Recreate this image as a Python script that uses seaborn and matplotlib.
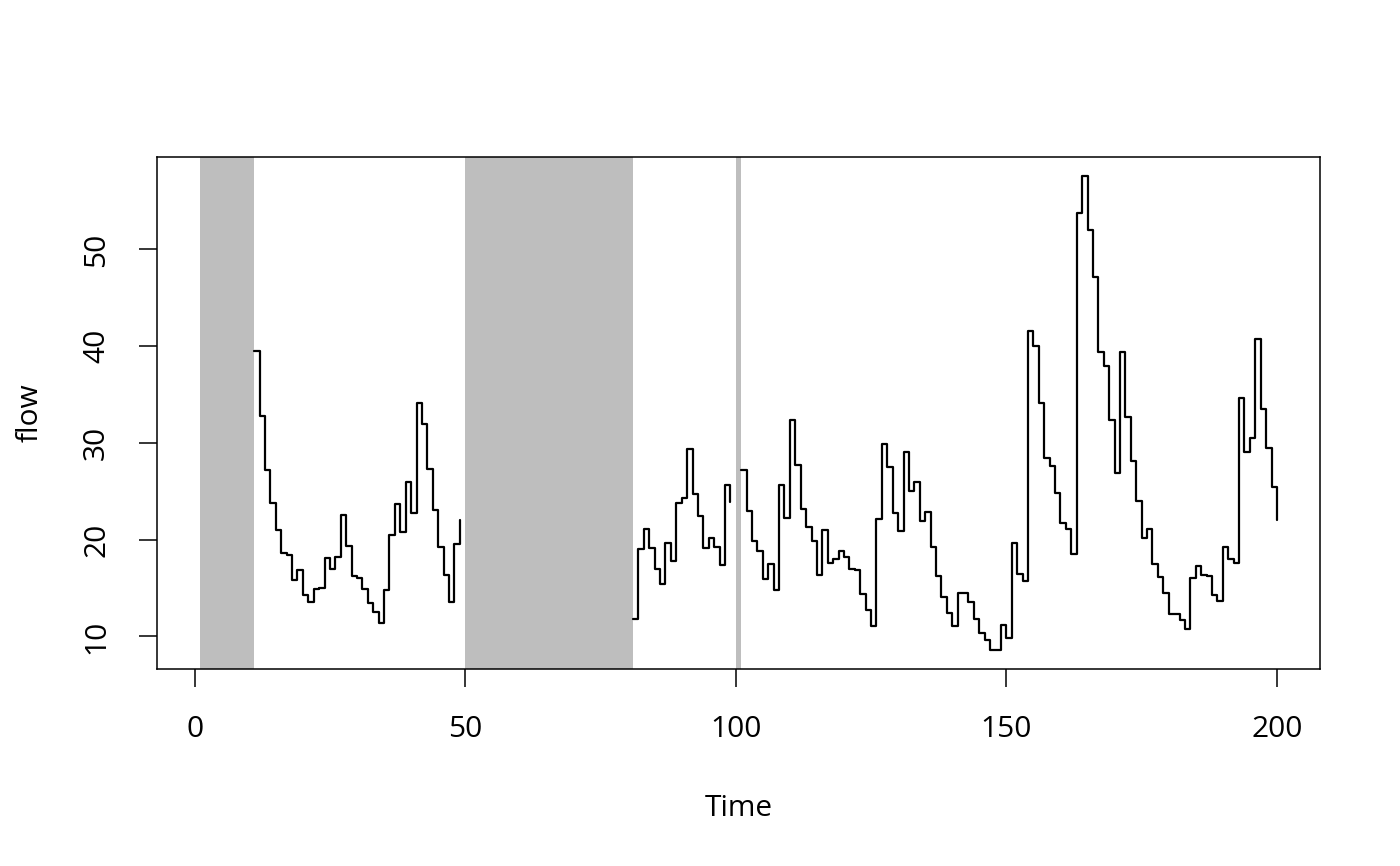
import numpy as np
import pandas as pd
import matplotlib
matplotlib.use("Agg")
import matplotlib.pyplot as plt
import seaborn as sns

NA = np.nan
time = list(range(1, 201))
flow = ([NA] * 10 + [
    39.5, 32.8, 27.2, 23.8, 21.0, 18.6, 18.4, 15.8, 16.9, 14.3,
    13.6, 14.9, 15.0, 18.1, 17.0, 18.2, 22.6, 19.4, 16.3, 16.0,
    14.9, 13.5, 12.5, 11.4, 14.8, 20.5, 23.7, 20.8, 26.0, 22.8,
    34.1, 32.0, 27.3, 23.1, 19.3, 16.4, 13.6, 19.6, 22.0]
    + [NA] * 31 + [
    11.8, 19.0, 21.1, 19.1, 17.0, 15.4, 19.7, 17.8, 23.8, 24.3,
    29.4, 24.7, 22.5, 19.1, 20.2, 19.3, 17.4, 25.7, 23.9]
    + [NA] + [
    27.2, 23.0, 19.9, 18.8, 15.9, 17.5, 14.8, 25.7, 22.2, 32.4,
    27.7, 23.2, 21.3, 19.9, 16.4, 21.0, 17.6, 18.0, 18.8, 18.2,
    17.0, 16.9, 14.4, 12.7, 11.1, 22.1, 29.9, 27.5, 22.8, 20.9,
    29.1, 25.0, 26.0, 21.9, 22.9, 19.3, 16.3, 14.1, 12.4, 11.1,
    14.5, 14.5, 13.6, 11.8, 10.4, 9.6, 8.6, 8.6, 11.2, 9.8,
    19.7, 16.5, 15.7, 41.6, 40.0, 34.1, 28.4, 27.6, 24.8, 21.7,
    21.1, 18.5, 53.8, 57.6, 52.0, 47.2, 39.4, 38.0, 32.4, 26.9,
    39.4, 32.7, 28.1, 24.0, 20.2, 21.1, 17.5, 16.2, 14.5, 12.3,
    12.3, 11.7, 10.8, 16.0, 17.3, 16.4, 16.3, 14.3, 13.7, 19.2,
    18.0, 17.6, 34.7, 29.1, 30.5, 40.7, 33.5, 29.5, 25.5, 22.0])
x_ticks = [0, 50, 100, 150, 200]
y_ticks = [10, 20, 30, 40, 50]

sns.set_theme(style="white")
plt.rcParams['font.family'] = ['Open Sans', 'DejaVu Sans']

df = pd.DataFrame({"Time": time, "flow": flow})
isna = df["flow"].isna()
df["seg"] = (isna != isna.shift()).cumsum()
obs = df[~isna]

# NA runs -> shaded bands
runs = []
start = None
for t, m in zip(df["Time"], isna):
    if m and start is None:
        start = t
    if not m and start is not None:
        runs.append((start, t))
        start = None
if start is not None:
    runs.append((start, df["Time"].iloc[-1] + 1))

fig = plt.figure(figsize=(14, 8.66), dpi=100)
ax = fig.add_axes([157/1400, 1 - 669/866, (1320-157)/1400, (669-157)/866])

for a, b in runs:
    ax.axvspan(a, b, color="#BEBEBE", lw=0, zorder=0)

sns.lineplot(data=obs, x="Time", y="flow", units="seg", estimator=None,
             drawstyle="steps-post", color="black", lw=1.6, ax=ax,
             legend=False, zorder=2)

t0, t1 = min(time), max(time)
xr = t1 - t0
ax.set_xlim(t0 - 0.04 * xr, t1 + 0.04 * xr)
ymin, ymax = np.nanmin(flow), np.nanmax(flow)
yr = ymax - ymin
ax.set_ylim(ymin - 0.04 * yr, ymax + 0.04 * yr)

ax.set_xticks(x_ticks)
ax.set_yticks(y_ticks)
ax.set_xticklabels([str(v) for v in x_ticks])
ax.set_yticklabels([str(v) for v in y_ticks], rotation=90, va="center")
ax.tick_params(axis="both", direction="out", length=13, width=1.1,
               color="black", labelsize=21.5, labelcolor="black", pad=20,
               bottom=True, left=True)
for s in ax.spines.values():
    s.set_color("black")
    s.set_linewidth(1.1)
ax.set_xlabel("Time", fontsize=21.5, color="black", labelpad=36)
ax.set_ylabel("flow", fontsize=21.5, color="black", labelpad=27)
ax.grid(False)

fig.savefig("out.png", dpi=100, facecolor="white")
